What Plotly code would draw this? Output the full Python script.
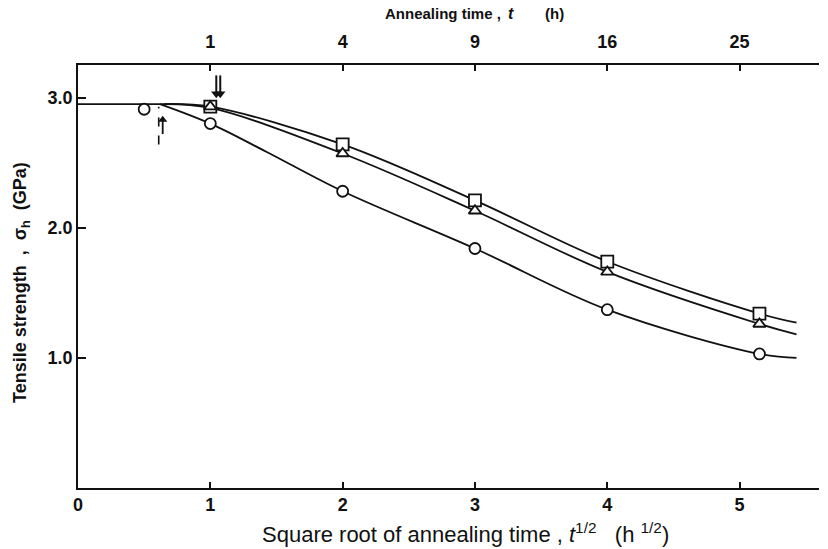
import plotly.graph_objects as go

# ---- data ----
sq_x = [1.0, 2.0, 3.0, 4.0, 5.15]
sq_y = [2.93, 2.64, 2.21, 1.74, 1.34]
tri_x = [1.0, 2.0, 3.0, 4.0, 5.15]
tri_y = [2.93, 2.57, 2.13, 1.66, 1.26]
circ_x = [0.5, 1.0, 2.0, 3.0, 4.0, 5.15]
circ_y = [2.91, 2.80, 2.28, 1.84, 1.37, 1.03]

flat_x = [0, 0.65]
flat_y = [2.95, 2.95]
curve_sq_x = [0.65, 1.0, 2.0, 3.0, 4.0, 5.15, 5.43]
curve_sq_y = [2.95, 2.93, 2.64, 2.21, 1.74, 1.34, 1.27]
curve_tri_x = [0.65, 1.0, 2.0, 3.0, 4.0, 5.15, 5.43]
curve_tri_y = [2.95, 2.92, 2.57, 2.13, 1.66, 1.26, 1.18]
curve_c_x = [0.62, 1.0, 1.43, 2.0, 3.0, 4.0, 5.15, 5.43]
curve_c_y = [2.95, 2.80, 2.58, 2.28, 1.84, 1.37, 1.03, 1.00]

bottom_ticks = [0, 1, 2, 3, 4, 5]
top_tick_pos = [1, 2, 3, 4, 5]
top_tick_text = ["1", "4", "9", "16", "25"]
y_ticks = [1.0, 2.0, 3.0]
y_tick_text = ["1.0", "2.0", "3.0"]

onset_dash_x = 0.61
onset_dash_y = [2.64, 2.93]
up_arrow_x = 0.64
up_arrow_y = [2.72, 2.83]
down_arrows_x = [1.045, 1.075]
down_arrow_y = [3.17, 3.03]

FONT = "Liberation Sans, Arial, sans-serif"
BLACK = "#111111"

fig = go.Figure()

fig.add_trace(go.Scatter(x=flat_x, y=flat_y, mode="lines",
                         line=dict(color=BLACK, width=1.8),
                         hoverinfo="skip", showlegend=False))
for cx, cy in [(curve_sq_x, curve_sq_y), (curve_tri_x, curve_tri_y), (curve_c_x, curve_c_y)]:
    fig.add_trace(go.Scatter(x=cx, y=cy, mode="lines",
                             line=dict(color=BLACK, width=1.8, shape="spline", smoothing=1.0),
                             hoverinfo="skip", showlegend=False))

fig.add_trace(go.Scatter(x=sq_x, y=sq_y, mode="markers", showlegend=False,
                         marker=dict(symbol="square", size=12, color="white",
                                     line=dict(color=BLACK, width=1.8))))
fig.add_trace(go.Scatter(x=tri_x, y=tri_y, mode="markers", showlegend=False,
                         marker=dict(symbol="triangle-up", size=11, color="white",
                                     line=dict(color=BLACK, width=1.8))))
fig.add_trace(go.Scatter(x=circ_x, y=circ_y, mode="markers", showlegend=False,
                         marker=dict(symbol="circle", size=11, color="white",
                                     line=dict(color=BLACK, width=1.8))))

# onset markers: dashed line + arrows (drawn as lines with arrowhead markers)
fig.add_trace(go.Scatter(x=[onset_dash_x, onset_dash_x], y=onset_dash_y, mode="lines",
                         line=dict(color=BLACK, width=1.6, dash="dash"),
                         hoverinfo="skip", showlegend=False))
fig.add_trace(go.Scatter(x=[up_arrow_x, up_arrow_x], y=up_arrow_y, mode="lines",
                         line=dict(color=BLACK, width=1.8), hoverinfo="skip", showlegend=False))
fig.add_trace(go.Scatter(x=[up_arrow_x], y=[up_arrow_y[1]], mode="markers",
                         marker=dict(symbol="triangle-up", size=8, color=BLACK),
                         hoverinfo="skip", showlegend=False))
for dx in down_arrows_x:
    fig.add_trace(go.Scatter(x=[dx, dx], y=down_arrow_y, mode="lines",
                             line=dict(color=BLACK, width=2), hoverinfo="skip", showlegend=False))
fig.add_trace(go.Scatter(x=down_arrows_x, y=[down_arrow_y[1]] * len(down_arrows_x), mode="markers",
                         marker=dict(symbol="triangle-down", size=9, color=BLACK),
                         hoverinfo="skip", showlegend=False))

# invisible trace on the top axis
fig.add_trace(go.Scatter(x=[0], y=[0], xaxis="x2", mode="markers",
                         marker=dict(opacity=0), hoverinfo="skip", showlegend=False))

L, T, W, H = 78, 65, 741, 423

def px(xp):
    return (xp - L) / W

def py(yp):
    return (T + H - yp) / H

# axis titles
fig.add_annotation(xref="paper", yref="paper", x=px(465), y=py(533),
                   text="Square root of annealing time , <i>t</i><sup>1/2</sup>   (h <sup>1/2</sup>)",
                   showarrow=False, font=dict(family=FONT, size=22, color=BLACK),
                   xanchor="center", yanchor="middle")
fig.add_annotation(xref="paper", yref="paper", x=px(21), y=py(283),
                   text="Tensile strength  ,  σ<sub>h</sub>  (GPa)", textangle=-90,
                   showarrow=False, font=dict(family=FONT, size=18, color=BLACK, weight="bold"),
                   xanchor="center", yanchor="middle")
fig.add_annotation(xref="paper", yref="paper", x=px(383), y=py(14),
                   text="Annealing time ,",
                   showarrow=False, font=dict(family=FONT, size=15, color=BLACK, weight="bold"),
                   xanchor="left", yanchor="middle")
fig.add_annotation(xref="paper", yref="paper", x=px(511), y=py(14),
                   text="<i>t</i>",
                   showarrow=False, font=dict(family=FONT, size=16, color=BLACK, weight="bold"),
                   xanchor="center", yanchor="middle")
fig.add_annotation(xref="paper", yref="paper", x=px(554), y=py(14),
                   text="(h)",
                   showarrow=False, font=dict(family=FONT, size=15, color=BLACK, weight="bold"),
                   xanchor="center", yanchor="middle")

tickfont = dict(family=FONT, size=18, color=BLACK, weight="bold")
fig.update_layout(
    width=828, height=549,
    margin=dict(l=L, r=828 - L - W, t=T, b=549 - T - H),
    paper_bgcolor="white", plot_bgcolor="white",
    xaxis=dict(range=[0, 5.6], tickvals=bottom_ticks, ticks="inside", ticklen=6,
               tickwidth=1.5, tickcolor=BLACK, showline=True, linecolor=BLACK,
               linewidth=1.6, showgrid=False, zeroline=False, tickfont=tickfont),
    xaxis2=dict(range=[0, 5.6], overlaying="x", side="top", tickvals=top_tick_pos,
                ticktext=top_tick_text, ticks="inside", ticklen=6, tickwidth=1.5,
                tickcolor=BLACK, showline=True, linecolor=BLACK, linewidth=1.6,
                showgrid=False, zeroline=False, tickfont=tickfont, anchor="y",
                ticklabelstandoff=8),
    yaxis=dict(range=[0, 3.25], tickvals=y_ticks, ticktext=y_tick_text, ticks="inside",
               ticklen=8, tickwidth=1.5, tickcolor=BLACK, showline=True, linecolor=BLACK,
               linewidth=1.6, showgrid=False, zeroline=False, tickfont=tickfont),
    showlegend=False,
)

fig.write_html("out.html")
